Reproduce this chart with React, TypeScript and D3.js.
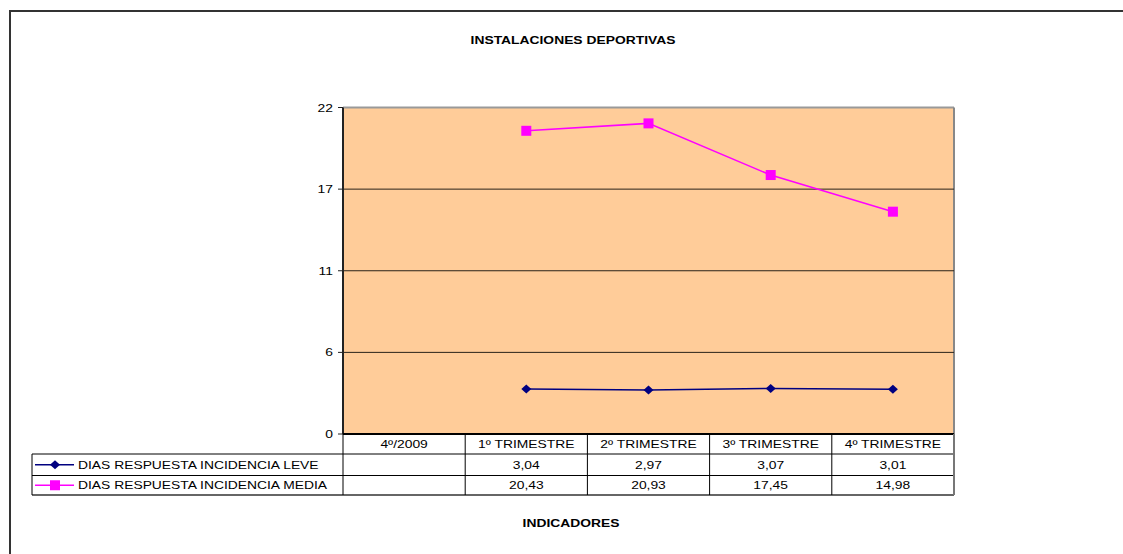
import React from "react";
import * as d3 from "d3";

const categories = ["4º/2009", "1º TRIMESTRE", "2º TRIMESTRE", "3º TRIMESTRE", "4º TRIMESTRE"];
const leveValues: (number | null)[] = [null, 3.04, 2.97, 3.07, 3.01];
const mediaValues: (number | null)[] = [null, 20.43, 20.93, 17.45, 14.98];
const yTicks = [0, 5.5, 11, 16.5, 22];
const seriesNames = ["DIAS RESPUESTA INCIDENCIA LEVE", "DIAS RESPUESTA INCIDENCIA MEDIA"];
const titleText = "INSTALACIONES DEPORTIVAS";
const xTitleText = "INDICADORES";

const fmt = (v: number | null) => (v == null ? "" : v.toFixed(2).replace(".", ","));
const SX = 1.26;

function T(props: { x: number; y: number; anchor?: string; bold?: boolean; children: React.ReactNode }) {
  return (
    <text
      transform={`translate(${props.x},${props.y}) scale(${SX},1)`}
      textAnchor={props.anchor || "start"}
      fontSize={11}
      fontWeight={props.bold ? "bold" : "normal"}
      fill="#000"
    >
      {props.children}
    </text>
  );
}

export default function App() {
  const W = 1123, H = 554;
  const left = 343, right = 954, top = 107.5, bottom = 434;
  const x = d3.scaleBand<string>().domain(categories).range([left, right]).padding(0);
  const y = d3.scaleLinear().domain([0, 22]).range([bottom, top]);
  const cx = (c: string) => (x(c) as number) + x.bandwidth() / 2;

  const line = d3
    .line<{ c: string; v: number | null }>()
    .defined((d) => d.v != null)
    .x((d) => cx(d.c))
    .y((d) => y(d.v as number));

  const leveData = categories.map((c, i) => ({ c, v: leveValues[i] }));
  const mediaData = categories.map((c, i) => ({ c, v: mediaValues[i] }));

  const rowHeader = [434, 454];
  const row1 = [454, 475.5];
  const row2 = [475.5, 495];
  const tableLeft = 32;
  const font = "'Liberation Sans', Arial, sans-serif";

  const diamond = (px: number, py: number, key: string) => (
    <path key={key} d={`M${px - 5},${py} L${px},${py - 4.5} L${px + 5},${py} L${px},${py + 4.5} Z`} fill="#000080" />
  );
  const square = (px: number, py: number, key: string) => (
    <rect key={key} x={px - 5} y={py - 5} width={10} height={10} fill="#FF00FF" />
  );

  return (
    <div style={{ position: "fixed", left: 0, top: 0, width: W, height: H, overflow: "hidden", background: "#fff" }}>
      <svg width={W} height={H} style={{ display: "block" }} fontFamily={font}>
        <rect x={0} y={0} width={W} height={H} fill="#fff" />
        <line x1={10} x2={10} y1={10} y2={H + 5} stroke="#333" strokeWidth={2} />
        <line x1={9} x2={W + 20} y1={11} y2={11} stroke="#333" strokeWidth={2} />
        <T x={573} y={44} anchor="middle" bold>{titleText}</T>

        {/* plot area */}
        <rect x={left} y={top} width={right - left} height={bottom - top} fill="#FFCC99" />
        <line x1={left} x2={right} y1={top} y2={top} stroke="#999" strokeWidth={2} />
        <line x1={right} x2={right} y1={top} y2={bottom} stroke="#888" strokeWidth={2} />
        {yTicks.filter((t) => t > 0 && t < 22).map((t) => (
          <line key={t} x1={left} x2={right} y1={y(t)} y2={y(t)} stroke="#2a2218" strokeWidth={1} />
        ))}
        <line x1={left} x2={left} y1={top} y2={bottom} stroke="#222" strokeWidth={2} />
        {yTicks.map((t) => (
          <g key={"t" + t}>
            <line x1={left - 5} x2={left} y1={y(t)} y2={y(t)} stroke="#222" strokeWidth={1} />
            <T x={left - 10} y={y(t) + 4} anchor="end">{Math.round(t)}</T>
          </g>
        ))}

        {/* series */}
        <path d={line(mediaData) || ""} fill="none" stroke="#FF00FF" strokeWidth={1.5} />
        <path d={line(leveData) || ""} fill="none" stroke="#000080" strokeWidth={1.5} />
        {mediaData.filter((d) => d.v != null).map((d) => square(cx(d.c), y(d.v as number), "m" + d.c))}
        {leveData.filter((d) => d.v != null).map((d) => diamond(cx(d.c), y(d.v as number), "l" + d.c))}

        {/* data table */}
        <line x1={left} x2={right} y1={bottom} y2={bottom} stroke="#000" strokeWidth={2} />
        <line x1={tableLeft} x2={right} y1={row1[0]} y2={row1[0]} stroke="#000" strokeWidth={1} />
        <line x1={tableLeft} x2={right} y1={row2[0]} y2={row2[0]} stroke="#000" strokeWidth={1} />
        <line x1={tableLeft} x2={right} y1={row2[1]} y2={row2[1]} stroke="#333" strokeWidth={1.5} />
        <line x1={tableLeft} x2={tableLeft} y1={row1[0]} y2={row2[1]} stroke="#000" strokeWidth={1} />
        {categories.map((c) => (
          <line key={"v" + c} x1={x(c) as number} x2={x(c) as number} y1={bottom} y2={row2[1]} stroke="#000" strokeWidth={1} />
        ))}
        <line x1={right} x2={right} y1={bottom} y2={row2[1]} stroke="#777" strokeWidth={2} />
        {categories.map((c) => (
          <T key={"h" + c} x={cx(c)} y={(rowHeader[0] + rowHeader[1]) / 2 + 4} anchor="middle">{c}</T>
        ))}
        {leveData.map((d) => (
          <T key={"r1" + d.c} x={cx(d.c)} y={(row1[0] + row1[1]) / 2 + 4} anchor="middle">{fmt(d.v)}</T>
        ))}
        {mediaData.map((d) => (
          <T key={"r2" + d.c} x={cx(d.c)} y={(row2[0] + row2[1]) / 2 + 4} anchor="middle">{fmt(d.v)}</T>
        ))}

        {/* legend keys */}
        <line x1={35} x2={74} y1={(row1[0] + row1[1]) / 2} y2={(row1[0] + row1[1]) / 2} stroke="#000080" strokeWidth={1.5} />
        {diamond(55, (row1[0] + row1[1]) / 2, "lg1")}
        <T x={78} y={(row1[0] + row1[1]) / 2 + 4}>{seriesNames[0]}</T>
        <line x1={35} x2={74} y1={(row2[0] + row2[1]) / 2} y2={(row2[0] + row2[1]) / 2} stroke="#FF00FF" strokeWidth={1.5} />
        {square(55, (row2[0] + row2[1]) / 2, "lg2")}
        <T x={78} y={(row2[0] + row2[1]) / 2 + 4}>{seriesNames[1]}</T>

        <T x={571} y={527} anchor="middle" bold>{xTitleText}</T>
      </svg>
    </div>
  );
}
